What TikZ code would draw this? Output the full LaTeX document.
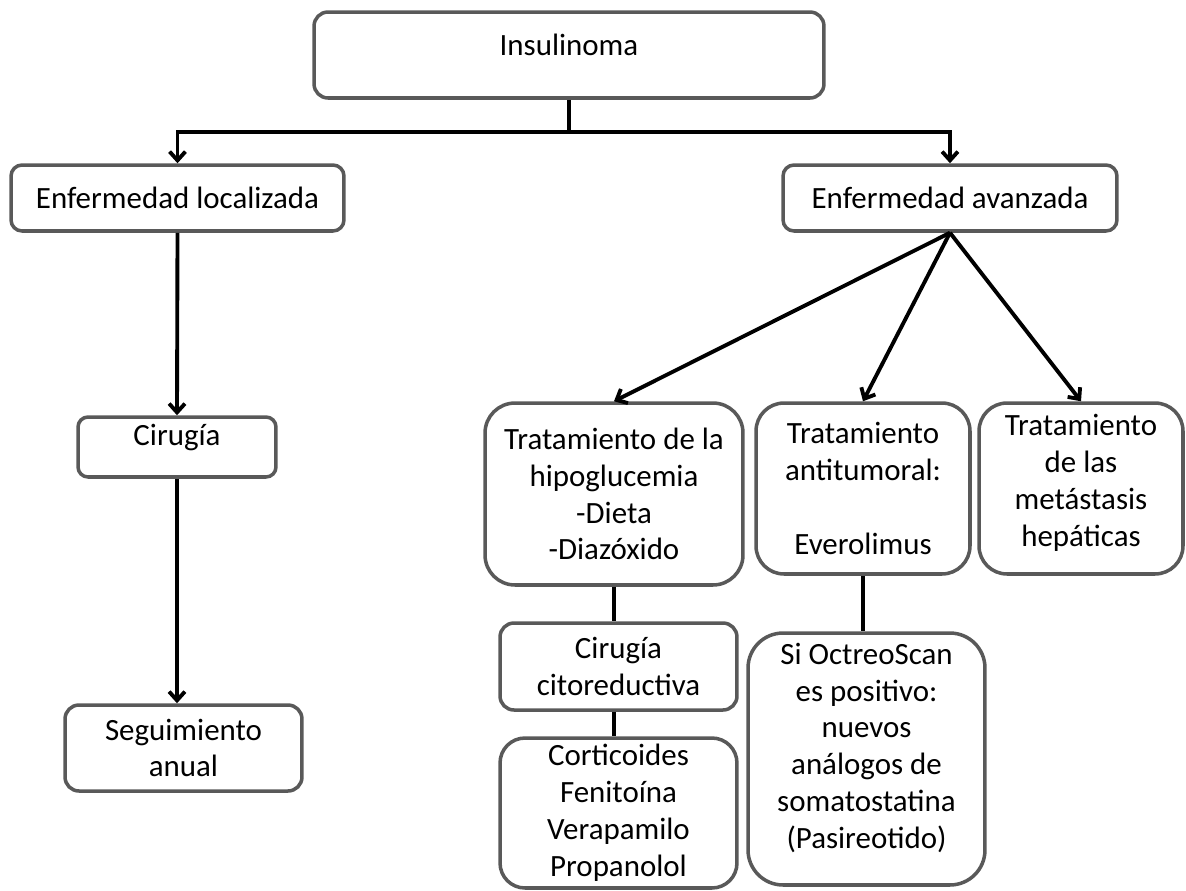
\documentclass[tikz,border=0pt]{standalone}
\usepackage{fontspec}
\setmainfont{Carlito}
\usepackage{tikz}
\usetikzlibrary{arrows.meta}
\definecolor{boxgray}{RGB}{89,89,89}
\newcommand{\upby}[2]{\raisebox{#1}[\height][\depth]{#2}}
\tikzset{
	box/.style={draw=boxgray, line width=2pt, align=center, inner sep=0pt,
		font=\fontsize{17.6}{21}\selectfont},
	conn/.style={line width=2.2pt}
}

\begin{document}
\begin{tikzpicture}[x=0.02cm, y=-0.02cm, >={Straight Barb[length=5pt,width=9pt]}]
	\useasboundingbox (0,0) rectangle (1186,890);
	%Cajas
	\node [box, rounded corners=0.28cm, minimum width=10.2cm, minimum height=1.72cm] (ins) at (569,55) {\upby{0.2cm}{Insulinoma}};
	\node [box, rounded corners=0.22cm, minimum width=6.66cm, minimum height=1.32cm] (loc) at (177.5,198) {Enfermedad localizada};
	\node [box, rounded corners=0.22cm, minimum width=6.68cm, minimum height=1.32cm] (ava) at (950,198) {Enfermedad avanzada};
	\node [box, rounded corners=0.2cm, minimum width=3.96cm, minimum height=1.2cm] (cir) at (177,447) {\upby{0.18cm}{Cirugía}};
	\node [box, rounded corners=0.28cm, minimum width=4.74cm, minimum height=1.72cm] (seg) at (183.5,748) {Seguimiento\\anual};
	\node [box, rounded corners=0.6cm, minimum width=5.16cm, minimum height=3.64cm] (hipo) at (614,494) {Tratamiento de la\\hipoglucemia\\-Dieta\\-Diazóxido};
	\node [box, rounded corners=0.56cm, minimum width=4.28cm, minimum height=3.42cm] (anti) at (863,488.5) {Tratamiento\\antitumoral:\\[21pt]Everolimus};
	\node [box, rounded corners=0.56cm, minimum width=4.08cm, minimum height=3.42cm] (meta) at (1081,488.5) {\upby{0.1cm}{\begin{tabular}{@{}c@{}}Tratamiento\\de las\\metástasis\\hepáticas\end{tabular}}};
	\node [box, rounded corners=0.28cm, minimum width=4.74cm, minimum height=1.74cm] (cito) at (618.5,666.5) {Cirugía\\citoreductiva};
	\node [box, rounded corners=0.5cm, minimum width=4.74cm, minimum height=3cm] (cort) at (618.5,813) {Corticoides\\Fenitoína\\Verapamilo\\Propanolol};
	\node [box, rounded corners=0.7cm, minimum width=4.74cm, minimum height=5.04cm] (octr) at (866.5,759)
		{\upby{0.2cm}{\begin{tabular}{@{}c@{}}Si OctreoScan\\es positivo:\\nuevos\\análogos de\\somatostatina\\(Pasireotido)\end{tabular}}};
	%Conectores
	\draw [conn] (ins.south) -- ++(0,32) coordinate (split);
	\draw [conn, ->] (split) -| (loc.north);
	\draw [conn, ->] (split) -| (ava.north);
	\draw [conn, ->] (loc.south) -- (cir.north);
	\draw [conn, ->] (cir.south) -- (cir.south |- seg.north);
	\foreach \dest in {hipo, anti, meta}
		{\draw [conn, ->] (ava.south) -- (\dest.north);}
	\draw [conn] (hipo.south) -- (hipo.south |- cito.north);
	\draw [conn] (hipo.south |- cito.south) -- (hipo.south |- cort.north);
	\draw [conn] (anti.south) -- (anti.south |- octr.north);
\end{tikzpicture}
\end{document}
